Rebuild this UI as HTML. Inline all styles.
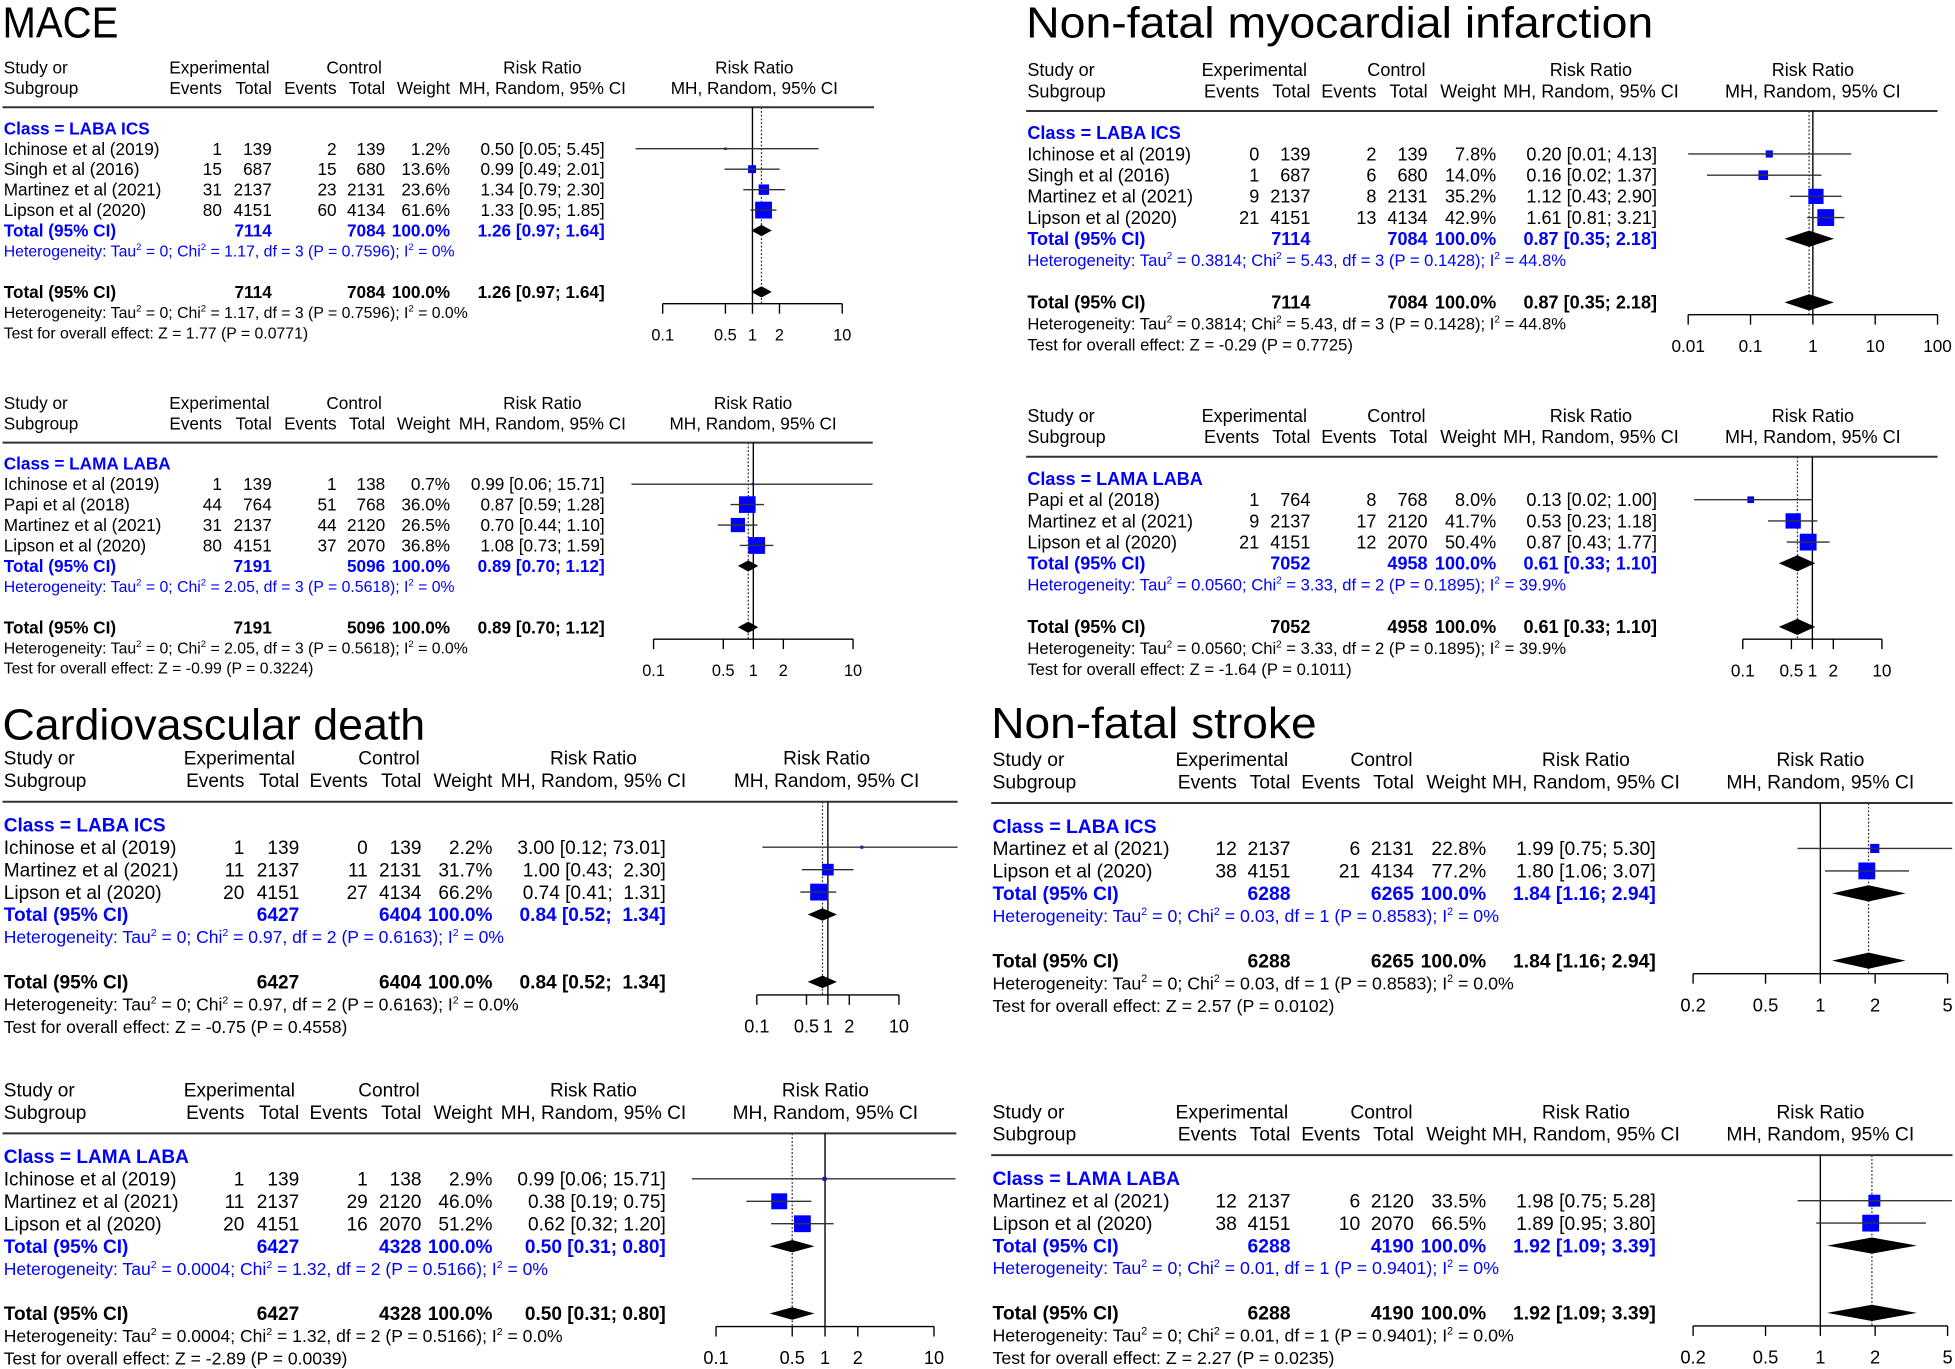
<!DOCTYPE html>
<html><head><meta charset="utf-8"><title>Forest plots</title>
<style>
html,body{margin:0;padding:0;background:#fff;}
svg{display:block;}
text{font-family:"Liberation Sans",Arial,sans-serif;white-space:pre;}
</style></head>
<body>
<svg id="fig" xmlns="http://www.w3.org/2000/svg" width="1955" height="1369" viewBox="0 0 1568 1098" preserveAspectRatio="none"></svg>
<script>
const panelTitles = ['MACE', null, 'Cardiovascular death', null, 'Non-fatal myocardial infarction', null, 'Non-fatal stroke', null];
const panelClass = ['LABA ICS','LAMA LABA','LABA ICS','LAMA LABA','LABA ICS','LAMA LABA','LABA ICS','LAMA LABA'];
const studies = [
 ['Ichinose et al (2019)','Singh et al (2016)','Martinez et al (2021)','Lipson et al (2020)'],
 ['Ichinose et al (2019)','Papi et al (2018)','Martinez et al (2021)','Lipson et al (2020)'],
 ['Ichinose et al (2019)','Martinez et al (2021)','Lipson et al (2020)'],
 ['Ichinose et al (2019)','Martinez et al (2021)','Lipson et al (2020)'],
 ['Ichinose et al (2019)','Singh et al (2016)','Martinez et al (2021)','Lipson et al (2020)'],
 ['Papi et al (2018)','Martinez et al (2021)','Lipson et al (2020)'],
 ['Martinez et al (2021)','Lipson et al (2020)'],
 ['Martinez et al (2021)','Lipson et al (2020)']
];
const expEvents = [[1,15,31,80],[1,44,31,80],[1,11,20],[1,11,20],[0,1,9,21],[1,9,21],[12,38],[12,38]];
const expTotals = [[139,687,2137,4151],[139,764,2137,4151],[139,2137,4151],[139,2137,4151],[139,687,2137,4151],[764,2137,4151],[2137,4151],[2137,4151]];
const ctrlEvents = [[2,15,23,60],[1,51,44,37],[0,11,27],[1,29,16],[2,6,8,13],[8,17,12],[6,21],[6,10]];
const ctrlTotals = [[139,680,2131,4134],[138,768,2120,2070],[139,2131,4134],[138,2120,2070],[139,680,2131,4134],[768,2120,2070],[2131,4134],[2120,2070]];
const weights = [[1.2,13.6,23.6,61.6],[0.7,36.0,26.5,36.8],[2.2,31.7,66.2],[2.9,46.0,51.2],[7.8,14.0,35.2,42.9],[8.0,41.7,50.4],[22.8,77.2],[33.5,66.5]];
const rr = [[0.50,0.99,1.34,1.33],[0.99,0.87,0.70,1.08],[3.00,1.00,0.74],[0.99,0.38,0.62],[0.20,0.16,1.12,1.61],[0.13,0.53,0.87],[1.99,1.80],[1.98,1.89]];
const ciLow = [[0.05,0.49,0.79,0.95],[0.06,0.59,0.44,0.73],[0.12,0.43,0.41],[0.06,0.19,0.32],[0.01,0.02,0.43,0.81],[0.02,0.23,0.43],[0.75,1.06],[0.75,0.95]];
const ciHigh = [[5.45,2.01,2.30,1.85],[15.71,1.28,1.10,1.59],[73.01,2.30,1.31],[15.71,0.75,1.20],[4.13,1.37,2.90,3.21],[1.00,1.18,1.77],[5.30,3.07],[5.28,3.80]];
const totExp = [7114,7191,6427,6427,7114,7052,6288,6288];
const totCtrl = [7084,5096,6404,4328,7084,4958,6265,4190];
const totRR = [1.26,0.89,0.84,0.50,0.87,0.61,1.84,1.92];
const totLo = [0.97,0.70,0.52,0.31,0.35,0.33,1.16,1.09];
const totHi = [1.64,1.12,1.34,0.80,2.18,1.10,2.94,3.39];
const hetTau = ['0','0','0','0.0004','0.3814','0.0560','0','0'];
const hetChi = ['1.17','2.05','0.97','1.32','5.43','3.33','0.03','0.01'];
const hetDf = [3,3,2,2,3,2,1,1];
const hetP = ['0.7596','0.5618','0.6163','0.5166','0.1428','0.1895','0.8583','0.9401'];
const hetI2Sub = ['0%','0%','0%','0%','44.8%','39.9%','0%','0%'];
const hetI2All = ['0.0%','0.0%','0.0%','0.0%','44.8%','39.9%','0.0%','0.0%'];
const testZ = ['1.77','-0.99','-0.75','-2.89','-0.29','-1.64','2.57','2.27'];
const testP = ['0.0771','0.3224','0.4558','0.0039','0.7725','0.1011','0.0102','0.0235'];
const axisTicks = [[0.1,0.5,1,2,10],[0.1,0.5,1,2,10],[0.1,0.5,1,2,10],[0.1,0.5,1,2,10],[0.01,0.1,1,10,100],[0.1,0.5,1,2,10],[0.2,0.5,1,2,5],[0.2,0.5,1,2,5]];

// layout (positions/styles only)
const colsL = [178,218,270,309,361,485], colsCV = [196,240,295,338,395,534], colsMI = [1010,1051,1104,1145,1200,1329], colsST = [992,1035,1091,1134,1192,1328];
const layout = [
 {lineY:86,rowH:16.4,fs:13.8,x1:2,x2:701,cols:colsL,expC:176,ctrlC:284,rrC:435,plotC:605,px1:603.5,dec:72,dh:9,tx:2,ty:30,tw:93},
 {lineY:355,rowH:16.4,fs:13.8,x1:2,x2:700,cols:colsL,expC:176,ctrlC:284,rrC:435,plotC:604,px1:604.2,dec:80,dh:9},
 {lineY:643,rowH:18,fs:15.3,x1:2,x2:768,cols:colsCV,expC:192,ctrlC:312,rrC:476,plotC:663,px1:664,dec:57,dh:10,pad:true,tx:2,ty:593,tw:339},
 {lineY:909,rowH:18,fs:15.3,x1:2,x2:767,cols:colsCV,expC:192,ctrlC:312,rrC:476,plotC:662,px1:661.7,dec:87.4,dh:10},
 {lineY:89,rowH:17,fs:14.5,x1:823,x2:1554,cols:colsMI,expC:1006,ctrlC:1120,rrC:1276,plotC:1454,px1:1454,dec:50,dh:13,tx:823,ty:30,tw:503},
 {lineY:366.3,rowH:17,fs:14.5,x1:823,x2:1554,cols:colsMI,expC:1006,ctrlC:1120,rrC:1276,plotC:1454,px1:1453.6,dec:55.8,dh:13},
 {lineY:644,rowH:18,fs:15.5,x1:795,x2:1566,cols:colsST,expC:988,ctrlC:1108,rrC:1272,plotC:1460,px1:1460,dec:146,dh:13,tx:795,ty:592,tw:261},
 {lineY:926.5,rowH:18,fs:15.5,x1:795,x2:1566,cols:colsST,expC:988,ctrlC:1108,rrC:1272,plotC:1460,px1:1460,dec:146,dh:13}
];

const NS = 'http://www.w3.org/2000/svg';
const svg = document.getElementById('fig');
function mk(tag, attrs, parent){const e=document.createElementNS(NS,tag);for(const k in attrs)e.setAttribute(k,attrs[k]);(parent||svg).appendChild(e);return e;}
function txt(g,x,y,s,fs,anchor,fill,bold){const t=mk('text',{x:x,y:(y+fs*0.35).toFixed(2),'font-size':fs,'text-anchor':anchor||'start',fill:fill||'#000','font-weight':bold?'bold':'normal'},g);t.textContent=s;return t;}
function hetText(g,x,y,fs,fill,parts){
  const t=mk('text',{x:x,y:(y+fs*0.35).toFixed(2),'font-size':fs,fill:fill},g);
  parts.forEach(p=>{const ts=mk('tspan',{},t);if(p.sup){ts.setAttribute('dy',-fs*0.4);ts.setAttribute('font-size',fs*0.6);ts.textContent=p.s;}else{if(p.after)ts.setAttribute('dy',fs*0.4);ts.textContent=p.s;}});
  return t;
}
function fmtRR(v,lo,hi,pad){let h=hi.toFixed(2);if(pad&&h.length<5)h=' '+h;return v.toFixed(2)+' ['+lo.toFixed(2)+'; '+h+']';}

for(let p=0;p<8;p++){
  const L=layout[p];
  const g=mk('g',{});
  
  
  const X=v=>L.px1+Math.log10(v)*L.dec;
  const fs=L.fs, rh=L.rowH, c=L.cols;
  if(panelTitles[p]){
    const t=mk('text',{x:L.tx,y:L.ty,'font-size':35,fill:'#000',textLength:L.tw,lengthAdjust:'spacingAndGlyphs'},g);t.textContent=panelTitles[p];
    
    
  }
  const h1=L.lineY-2*rh+1, h2=L.lineY-rh+1;
  const hg=mk('g',{},g);
  
  
  txt(hg,L.x1+1,h1,'Study or',fs);
  txt(hg,L.x1+1,h2,'Subgroup',fs);
  txt(hg,L.expC,h1,'Experimental',fs,'middle');
  txt(hg,L.ctrlC,h1,'Control',fs,'middle');
  txt(hg,L.rrC,h1,'Risk Ratio',fs,'middle');
  txt(hg,L.plotC,h1,'Risk Ratio',fs,'middle');
  txt(hg,c[0],h2,'Events',fs,'end');
  txt(hg,c[1],h2,'Total',fs,'end');
  txt(hg,c[2],h2,'Events',fs,'end');
  txt(hg,c[3],h2,'Total',fs,'end');
  txt(hg,c[4],h2,'Weight',fs,'end');
  txt(hg,L.rrC,h2,'MH, Random, 95% CI',fs,'middle');
  txt(hg,L.plotC,h2,'MH, Random, 95% CI',fs,'middle');
  const hl=mk('line',{x1:L.x1,x2:L.x2,y1:L.lineY,y2:L.lineY,stroke:'#333','stroke-width':1.6},g);
  
  

  const classY=L.lineY+rh+0.5;
  const cl=txt(g,L.x1+1,classY,'Class = '+panelClass[p],fs,'start','#0000ff',true);
  
  

  const n=studies[p].length;
  const overallY=classY+(n+4)*rh;
  const axisY=overallY+0.58*rh;
  const vl=mk('line',{x1:X(1),x2:X(1),y1:L.lineY,y2:axisY,stroke:'#000','stroke-width':1.1},g);
  
  
  const dl=mk('line',{x1:X(totRR[p]),x2:X(totRR[p]),y1:L.lineY,y2:axisY,stroke:'#333','stroke-width':1,'stroke-dasharray':'1.5,1.5'},g);
  
  

  const wmax=Math.max(...weights[p]);
  for(let i=0;i<n;i++){
    const y=classY+(i+1)*rh;
    const rg=mk('g',{},g);
    
    
    txt(rg,L.x1+1,y,studies[p][i],fs);
    txt(rg,c[0],y,String(expEvents[p][i]),fs,'end');
    txt(rg,c[1],y,String(expTotals[p][i]),fs,'end');
    txt(rg,c[2],y,String(ctrlEvents[p][i]),fs,'end');
    txt(rg,c[3],y,String(ctrlTotals[p][i]),fs,'end');
    txt(rg,c[4],y,weights[p][i].toFixed(1)+'%',fs,'end');
    txt(rg,c[5],y,fmtRR(rr[p][i],ciLow[p][i],ciHigh[p][i],L.pad),fs,'end');
    const s=Math.max(2,13.5*Math.sqrt(weights[p][i]/wmax));
    const sq=mk('rect',{x:X(rr[p][i])-s/2,y:y-s/2,width:s,height:s,fill:'#0000ff'},rg);
    
    
    const lx1=Math.max(L.x1,X(ciLow[p][i])), lx2=Math.min(L.x2,X(ciHigh[p][i]));
    const ci=mk('line',{x1:lx1,x2:lx2,y1:y,y2:y,stroke:'#333','stroke-width':1.1},rg);
    
    
  }
  function diamond(y,parent){
    const d=mk('polygon',{points:[X(totLo[p])+','+y, X(totRR[p])+','+(y-L.dh/2), X(totHi[p])+','+y, X(totRR[p])+','+(y+L.dh/2)].join(' '),fill:'#000'},parent);
    
    
  }
  const ty=classY+(n+1)*rh;
  const sg=mk('g',{},g);
  
  
  txt(sg,L.x1+1,ty,'Total (95% CI)',fs,'start','#0000ff',true);
  txt(sg,c[1],ty,String(totExp[p]),fs,'end','#0000ff',true);
  txt(sg,c[3],ty,String(totCtrl[p]),fs,'end','#0000ff',true);
  txt(sg,c[4],ty,'100.0%',fs,'end','#0000ff',true);
  txt(sg,c[5],ty,fmtRR(totRR[p],totLo[p],totHi[p],L.pad),fs,'end','#0000ff',true);
  diamond(ty,sg);
  const hfs=fs*0.92;
  const hs=hetText(g,L.x1+1,classY+(n+2)*rh,hfs,'#0000ff',[{s:'Heterogeneity: Tau'},{s:'2',sup:1},{s:' = '+hetTau[p]+'; Chi',after:1},{s:'2',sup:1},{s:' = '+hetChi[p]+', df = '+hetDf[p]+' (P = '+hetP[p]+'); I',after:1},{s:'2',sup:1},{s:' = '+hetI2Sub[p],after:1}]);
  
  
  const og=mk('g',{},g);
  
  
  txt(og,L.x1+1,overallY,'Total (95% CI)',fs,'start','#000',true);
  txt(og,c[1],overallY,String(totExp[p]),fs,'end','#000',true);
  txt(og,c[3],overallY,String(totCtrl[p]),fs,'end','#000',true);
  txt(og,c[4],overallY,'100.0%',fs,'end','#000',true);
  txt(og,c[5],overallY,fmtRR(totRR[p],totLo[p],totHi[p],L.pad),fs,'end','#000',true);
  diamond(overallY,og);
  const ho=hetText(g,L.x1+1,overallY+rh,hfs,'#000',[{s:'Heterogeneity: Tau'},{s:'2',sup:1},{s:' = '+hetTau[p]+'; Chi',after:1},{s:'2',sup:1},{s:' = '+hetChi[p]+', df = '+hetDf[p]+' (P = '+hetP[p]+'); I',after:1},{s:'2',sup:1},{s:' = '+hetI2All[p],after:1}]);
  
  
  const te=txt(g,L.x1+1,overallY+2*rh,'Test for overall effect: Z = '+testZ[p]+' (P = '+testP[p]+')',hfs);
  
  
  const ag=mk('g',{},g);
  
  
  const tk=axisTicks[p];
  mk('line',{x1:X(tk[0]),x2:X(tk[tk.length-1]),y1:axisY,y2:axisY,stroke:'#000','stroke-width':1.1},ag);
  tk.forEach(v=>{
    mk('line',{x1:X(v),x2:X(v),y1:axisY,y2:axisY+8,stroke:'#000','stroke-width':1.1},ag);
    const tl=txt(ag,X(v),axisY+25,String(v),fs*0.95,'middle');
    
    
  });
}
</script>
</body></html>
